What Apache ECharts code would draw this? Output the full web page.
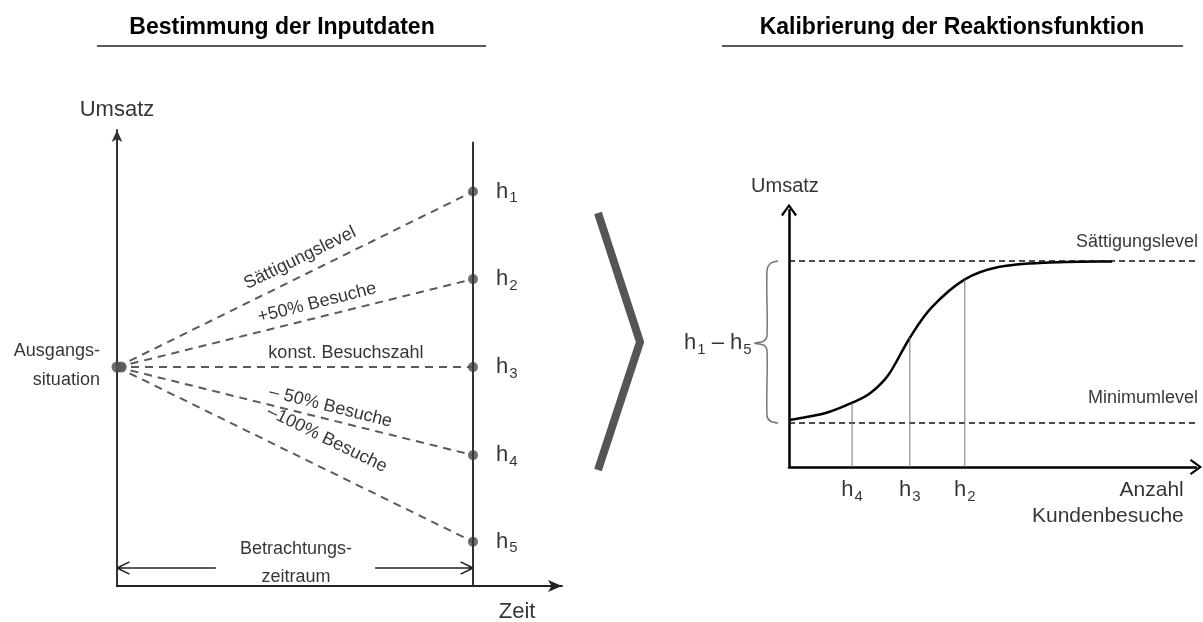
<!DOCTYPE html>
<html><head><meta charset="utf-8">
<script src="https://cdn.jsdelivr.net/npm/echarts@6/dist/echarts.min.js"></script>
<style>html,body{margin:0;padding:0;background:#fff}#c{width:1203px;height:622px}</style>
</head><body><div id="c"></div>
<script>
// ---- data (left panel: scenarios over time) ----
const hNames = ['1', '2', '3', '4', '5'];
const hValues = [8.65, 6.73, 4.80, 2.87, 0.97];
const startValue = 4.80;
const periodEnd = 1;
const scenarioLabels = ['Sättigungslevel', '+50% Besuche', 'konst. Besuchszahl', '– 50% Besuche', '–100% Besuche'];
const scenarioLabelX = [0.514, 0.562, 0.643, 0.60, 0.59];
const scenarioLabelY = [7.19, 6.21, 5.11, 3.93, 3.22];
const scenarioLabelRot = [26, 14, 0, -14, -26];
// ---- data (right panel: response function) ----
const curveX = [0.02, 0.90, 1.55, 2.00, 2.45, 2.97, 3.50, 4.32, 5.15, 6.30, 7.94];
const curveY = [1.83, 2.10, 2.50, 2.88, 3.60, 5.03, 6.20, 7.30, 7.78, 7.95, 8.00];
const saturationLevel = 8.02;
const minimumLevel = 1.71;
const levelEnd = 10.05;
const calibNames = ['4', '3', '2'];
const calibX = [1.55, 2.97, 4.32];
const calibY = [2.50, 5.03, 7.30];
const braceX = [-0.27, -0.45, -0.54, -0.54, -0.62, -0.84, -0.62, -0.54, -0.54, -0.45, -0.27];
const braceY = [8.02, 7.93, 7.65, 5.12, 4.90, 4.82, 4.74, 4.52, 1.98, 1.78, 1.71];

const FONT = "'Liberation Sans', Arial, sans-serif";
const hRich = {
  h: { fontSize: 22, lineHeight: 26, color: '#000', fontFamily: FONT },
  s: { fontSize: 15, lineHeight: 15, padding: [13, 0, 0, 1], color: '#000', fontFamily: FONT },
  d: { fontSize: 22, lineHeight: 26, color: '#000', fontFamily: FONT }
};
const openArrow = 'path://M8,0 L16,11 L14.2,12.3 L8,3.5 L1.8,12.3 L0,11 Z';

function txt(x, y, text, extra) {
  return {
    value: [x, y],
    label: Object.assign({ show: true, formatter: text, position: 'inside', color: '#000', fontFamily: FONT, fontSize: 18, textBorderWidth: 0 }, extra || {})
  };
}
// Catmull-Rom spline through pixel points -> SVG path
function splinePath(p) {
  let d = 'M' + p[0][0] + ',' + p[0][1];
  for (let i = 0; i < p.length - 1; i++) {
    const p0 = p[Math.max(i - 1, 0)], p1 = p[i], p2 = p[i + 1], p3 = p[Math.min(i + 2, p.length - 1)];
    const c1 = [p1[0] + (p2[0] - p0[0]) / 6, p1[1] + (p2[1] - p0[1]) / 6];
    const c2 = [p2[0] - (p3[0] - p1[0]) / 6, p2[1] - (p3[1] - p1[1]) / 6];
    d += ' C' + c1[0] + ',' + c1[1] + ' ' + c2[0] + ',' + c2[1] + ' ' + p2[0] + ',' + p2[1];
  }
  return d;
}

const series = [];
// left scenario dashed lines
hValues.forEach((v) => {
  series.push({
    type: 'line', xAxisIndex: 0, yAxisIndex: 0, symbol: 'none', silent: true,
    data: [[0, startValue], [periodEnd, v]],
    lineStyle: { color: '#5a5a5a', width: 2, type: [8, 6] }
  });
});
// end-of-period vertical line
series.push({
  type: 'line', xAxisIndex: 0, yAxisIndex: 0, symbol: 'none', silent: true,
  data: [[periodEnd, 0], [periodEnd, 9.74]],
  lineStyle: { color: '#333', width: 2 }
});
// period arrows
series.push({
  type: 'line', xAxisIndex: 0, yAxisIndex: 0, symbol: 'none', silent: true,
  data: [[0, 0.395], [0.278, 0.395], null, [0.035, 0.53], [0, 0.395], [0.035, 0.26], null,
         [0.725, 0.395], [periodEnd, 0.395], null, [periodEnd - 0.035, 0.53], [periodEnd, 0.395], [periodEnd - 0.035, 0.26]],
  connectNulls: false,
  lineStyle: { color: '#222', width: 1.5 }
});
// h points
series.push({
  type: 'scatter', xAxisIndex: 0, yAxisIndex: 0, symbolSize: 10, silent: true,
  itemStyle: { color: '#4a4a4a' },
  data: hValues.map((v, i) => ({
    value: [periodEnd, v],
    label: { show: true, position: 'right', distance: 18, formatter: '{h|h}{s|' + hNames[i] + '}', rich: hRich }
  }))
});
// start point
series.push({
  type: 'scatter', xAxisIndex: 0, yAxisIndex: 0, symbolSize: 11, silent: true,
  itemStyle: { color: '#4a4a4a' }, data: [[0, startValue], [0.012, startValue]]
});
// left texts
series.push({
  type: 'scatter', xAxisIndex: 0, yAxisIndex: 0, symbolSize: 0, silent: true, clip: false,
  data: scenarioLabels.map((t, i) => txt(scenarioLabelX[i], scenarioLabelY[i], t, { rotate: scenarioLabelRot[i] }))
    .concat([
      txt(-0.048, 4.84, 'Ausgangs-\nsituation', { align: 'right', lineHeight: 29 }),
      txt(0.503, 0.50, 'Betrachtungs-\nzeitraum', { lineHeight: 28 }),
      txt(0, 10.44, 'Umsatz', { fontSize: 22 }),
      txt(1.124, -0.57, 'Zeit', { fontSize: 22 })
    ])
});
// right: response curve (spline through the read points)
series.push({
  type: 'custom', xAxisIndex: 1, yAxisIndex: 1, silent: true, clip: false,
  data: [0],
  renderItem: function (params, api) {
    const pts = curveX.map((x, i) => api.coord([x, curveY[i]]));
    return { type: 'path', shape: { pathData: splinePath(pts) }, style: { stroke: '#000', lineWidth: 2.5, fill: null } };
  }
});
// levels
[saturationLevel, minimumLevel].forEach(l => {
  series.push({
    type: 'line', xAxisIndex: 1, yAxisIndex: 1, symbol: 'none', silent: true, clip: false,
    data: [[0, l], [levelEnd, l]],
    lineStyle: { color: '#111', width: 1.5, type: [6, 4] }
  });
});
// drop lines
calibX.forEach((x, i) => {
  series.push({
    type: 'line', xAxisIndex: 1, yAxisIndex: 1, symbol: 'none', silent: true,
    data: [[x, 0], [x, calibY[i]]],
    lineStyle: { color: '#777', width: 1 }
  });
});
// brace
series.push({
  type: 'custom', xAxisIndex: 1, yAxisIndex: 1, silent: true, clip: false,
  data: [0],
  renderItem: function (params, api) {
    const pts = braceX.map((x, i) => api.coord([x, braceY[i]]));
    return { type: 'polyline', shape: { points: pts, smooth: 0.3 }, style: { stroke: '#777', lineWidth: 1.5, fill: null } };
  }
});
// h labels under x axis
series.push({
  type: 'scatter', xAxisIndex: 1, yAxisIndex: 1, symbolSize: 0, silent: true, clip: false,
  data: calibX.map((x, i) => ({
    value: [x, 0],
    label: { show: true, position: 'bottom', distance: 10, formatter: '{h|h}{s|' + calibNames[i] + '}', rich: hRich }
  }))
});
// right texts
series.push({
  type: 'scatter', xAxisIndex: 1, yAxisIndex: 1, symbolSize: 0, silent: true, clip: false,
  data: [
    txt(-0.1, 10.9, 'Umsatz', { fontSize: 20 }),
    txt(10.05, 8.75, 'Sättigungslevel', { align: 'right', fontSize: 18 }),
    txt(10.05, 2.68, 'Minimumlevel', { align: 'right', fontSize: 18 }),
    txt(9.7, -1.42, 'Anzahl\nKundenbesuche', { align: 'right', fontSize: 21, lineHeight: 26 }),
    { value: [-0.92, 4.82], label: { show: true, position: 'inside', align: 'right', formatter: '{h|h}{s|1}{d| – h}{s|5}', rich: hRich } }
  ]
});

const axisCommon = { axisTick: { show: false }, axisLabel: { show: false }, splitLine: { show: false } };
const option = {
  animation: false,
  backgroundColor: '#fff',
  grid: [
    { left: 117, top: 130, width: 445, height: 456 },
    { left: 789, top: 210, width: 407, height: 257 }
  ],
  xAxis: [
    Object.assign({ type: 'value', gridIndex: 0, min: 0, max: 1.25,
      axisLine: { show: true, symbol: ['none', 'arrow'], symbolSize: [9, 14], lineStyle: { color: '#222', width: 2 } } }, axisCommon),
    Object.assign({ type: 'value', gridIndex: 1, min: 0, max: 10,
      axisLine: { show: true, symbol: ['none', openArrow], symbolSize: [16, 13], lineStyle: { color: '#000', width: 2.5 } } }, axisCommon)
  ],
  yAxis: [
    Object.assign({ type: 'value', gridIndex: 0, min: 0, max: 10,
      axisLine: { show: true, symbol: ['none', 'arrow'], symbolSize: [8, 12], lineStyle: { color: '#333', width: 2 } } }, axisCommon),
    Object.assign({ type: 'value', gridIndex: 1, min: 0, max: 10,
      axisLine: { show: true, symbol: ['none', openArrow], symbolSize: [16, 13], lineStyle: { color: '#000', width: 2.5 } } }, axisCommon)
  ],
  graphic: [
    { type: 'text', x: 282, y: 28, style: { text: 'Bestimmung der Inputdaten', font: 'bold 23px ' + FONT, fill: '#000', align: 'center', verticalAlign: 'middle' } },
    { type: 'text', x: 952, y: 28, style: { text: 'Kalibrierung der Reaktionsfunktion', font: 'bold 23px ' + FONT, fill: '#000', align: 'center', verticalAlign: 'middle' } },
    { type: 'line', shape: { x1: 97, y1: 46, x2: 486, y2: 46 }, style: { stroke: '#222', lineWidth: 1.5 } },
    { type: 'line', shape: { x1: 722, y1: 46, x2: 1183, y2: 46 }, style: { stroke: '#222', lineWidth: 1.5 } },
    { type: 'polyline', shape: { points: [[598, 213], [640, 342], [598, 470]] }, style: { stroke: '#555', lineWidth: 8, fill: null, lineJoin: 'miter' } }
  ],
  series: series
};
const chart = echarts.init(document.getElementById('c'), null, { renderer: 'canvas' });
chart.setOption(option);
</script>
</body></html>
